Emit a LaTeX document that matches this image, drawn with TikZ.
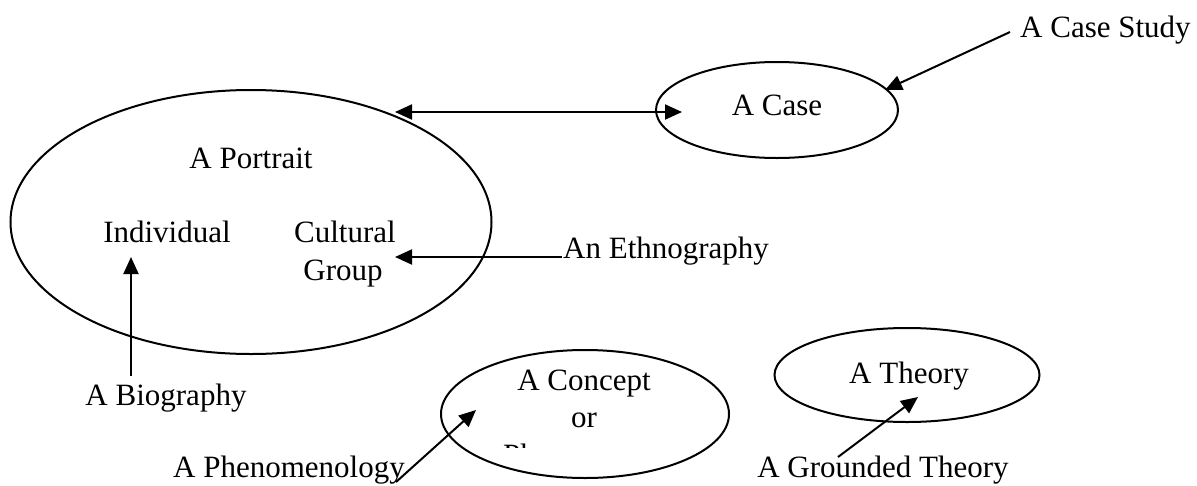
\documentclass[tikz,border=0pt]{standalone}
\usepackage{fontspec}
\setmainfont{Liberation Serif}
\usetikzlibrary{arrows.meta,shapes.geometric}
\begin{document}
\begin{tikzpicture}[x=1pt,y=-1pt,
  oval/.style={draw,line width=2pt,ellipse,inner sep=0pt},
  lbl/.style={inner sep=0pt,anchor=base,font=\fontsize{31}{36}\selectfont},
  lblw/.style={lbl,anchor=base west},
  arr/.style={line width=2pt,-{Triangle[length=17pt,width=15pt]}},
  darr/.style={line width=2pt,{Triangle[length=17pt,width=15pt]}-{Triangle[length=17pt,width=15pt]}}]
\useasboundingbox (0,0) rectangle (1197,485);
% ellipses
\node[oval,minimum width=481pt,minimum height=264pt] (portrait) at (251,222) {};
\node[oval,minimum width=242pt,minimum height=96pt] (case) at (777,110) {};
\node[oval,minimum width=288pt,minimum height=128pt] (concept) at (585,414) {};
\node[oval,minimum width=265pt,minimum height=94pt] (theory) at (907,375) {};
% texts inside
\node[lbl] (tportrait) at (251,168) {A Portrait};
\node[lbl] (tindiv) at (167,242) {Individual};
\node[lbl] (tcult) at (345,242) {Cultural};
\node[lbl] (tgroup) at (343,280) {Group};
\node[lbl] (tcase) at (777,115) {A Case};
\node[lbl] (ttheory) at (909,383) {A Theory};
\node[lbl] (tconcept) at (584,390) {A Concept};
\node[lbl] (tor) at (584,427) {or};
\begin{scope}
  \clip (400,300) rectangle (760,447);
  \node[lbl] (tphen) at (584,465) {Phenomenon};
\end{scope}
% outside labels
\node[lblw] (casestudy) at (1020,37) {A Case Study};
\node[lblw] (ethno) at (563,258) {An Ethnography};
\node[lbl] (bio) at (166,405) {A Biography};
\node[lblw] (phenom) at (173,477) {A Phenomenology};
\node[lbl] (grounded) at (883,477) {A Grounded Theory};
% connector points
\coordinate (dl) at (395,112);
\coordinate (dr) at (682,112);
\coordinate (csS) at (1010,32);
\coordinate (csT) at (885,90);
\coordinate (etS) at (562,257);
\coordinate (etT) at (395,257);
\coordinate (biS) at (131,376);
\coordinate (biT) at (131,257);
\coordinate (phS) at (396,482);
\coordinate (phT) at (476,410);
\coordinate (grS) at (838,457);
\coordinate (grT) at (918,397);
% connectors
\draw[darr] (dl) -- (dr);
\draw[arr] (csS) -- (csT);
\draw[arr] (etS) -- (etT);
\draw[arr] (biS) -- (biT);
\draw[arr] (phS) -- (phT);
\draw[arr] (grS) -- (grT);
\end{tikzpicture}
\end{document}
